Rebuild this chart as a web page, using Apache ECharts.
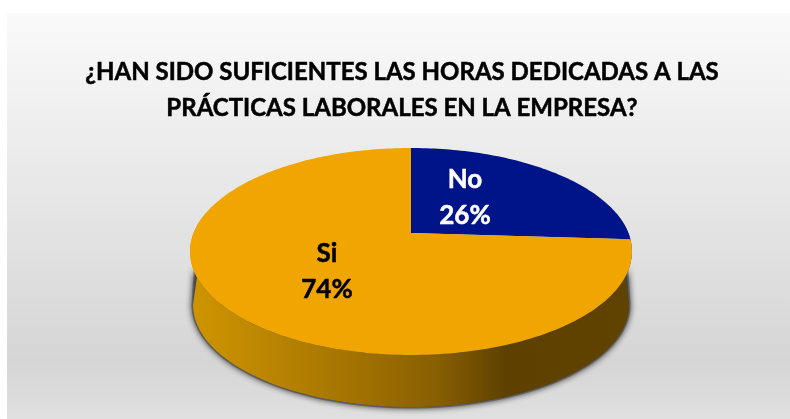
<!DOCTYPE html>
<html>
<head>
<meta charset="utf-8">
<style>html,body{margin:0;padding:0;background:#fff}#chart{width:790px;height:419px}</style>
<script src="https://cdn.jsdelivr.net/npm/echarts@6/dist/echarts.min.js"></script>
</head>
<body>
<div id="chart"></div>
<script>
const titleLines = ['¿HAN SIDO SUFICIENTES LAS HORAS DEDICADAS A LAS', 'PRÁCTICAS LABORALES EN LA EMPRESA?'];
const categories = ['No', 'Si'];
const shares = [26, 74];
const sliceColors = ['#00148A', '#F0A500'];
const labelColors = ['#ffffff', '#000000'];

// Tilted disc: the unit circle is mapped through a perspective projection,
// so the hub sits above the middle of the visible ellipse.
const hubX = 411, hubY = 233, scaleX = 217.4, scaleY = 58.55, tilt = -0.1787;
const project = (a) => {
  const x = Math.sin(a), y = -Math.cos(a), w = 1 + tilt * y;
  return [hubX + scaleX * x / w, (hubY + scaleY * y) / w];
};

// Lower rim of the cylinder, slightly narrower than the top face.
const rim = {cx: 411, cy: 305, rx: 218, ry: 102};

const total = shares.reduce((s, v) => s + v, 0);

function sectorPoints(startShare, share) {
  const pts = [[hubX, hubY]];
  const steps = Math.max(8, Math.round(share * 3));
  for (let i = 0; i <= steps; i++) {
    pts.push(project((startShare + share * i / steps) / total * 2 * Math.PI));
  }
  return pts;
}

// Outline of the wall; the top-face arc runs between the two given angles.
function wallPoints(fromDeg, toDeg) {
  const pts = [];
  for (let d = fromDeg; d <= toDeg; d += 2) pts.push(project(d * Math.PI / 180));
  for (let d = 270; d >= 90; d -= 2) {
    const t = d * Math.PI / 180;
    pts.push([rim.cx + rim.rx * Math.sin(t), rim.cy - rim.ry * Math.cos(t)]);
  }
  return pts;
}

const labelAnchors = [[465, 198], [327, 272]];

const option = {
  animation: false,
  graphic: {
    elements: [{
      type: 'rect', z: -10, silent: true,
      shape: {x: 7, y: 13, width: 783, height: 406},
      style: {
        fill: {
          type: 'linear', x: 0, y: 0, x2: 0, y2: 1,
          colorStops: [
            {offset: 0, color: '#fafafa'},
            {offset: 0.86, color: '#d5d5d5'},
            {offset: 1, color: '#e0e0e0'}
          ]
        }
      }
    }]
  },
  title: {
    text: titleLines.join('\n'),
    left: 397, top: 49, textAlign: 'center',
    textStyle: {
      fontFamily: 'Lato', fontWeight: 'bold', fontSize: 24, lineHeight: 36, color: '#000',
      textBorderColor: '#000', textBorderWidth: 0.5
    }
  },
  series: [
    {
      // Soft shadow hugging the lower part of the cylinder.
      type: 'custom', coordinateSystem: 'none', silent: true, z: 1,
      data: [0],
      renderItem: () => ({
        type: 'polygon',
        shape: {points: wallPoints(112, 248)},
        style: {
          fill: '#555', stroke: 'rgba(70,70,70,0.55)', lineWidth: 3,
          shadowColor: 'rgba(0,0,0,0.8)', shadowBlur: 6
        }
      })
    },
    {
      // Side wall of the cylinder, behind the top face.
      type: 'custom', coordinateSystem: 'none', silent: true, z: 2,
      data: [0],
      renderItem: () => ({
        type: 'polygon',
        shape: {points: wallPoints(78, 282)},
        style: {
          fill: {
            type: 'linear', x: 190, y: 0, x2: 631, y2: 0, global: true,
            colorStops: [
              {offset: 0, color: '#CF9500'},
              {offset: 0.3, color: '#AC7A02'},
              {offset: 0.55, color: '#8A6001'},
              {offset: 0.72, color: '#5E4100'},
              {offset: 1, color: '#604300'}
            ]
          }
        }
      })
    },
    {
      type: 'custom', coordinateSystem: 'none', silent: true, z: 3,
      data: shares.map((v, i) => [i, v]),
      renderItem: (params, api) => {
        const i = api.value(0);
        const share = api.value(1);
        const start = shares.slice(0, i).reduce((s, v) => s + v, 0);
        return {
          type: 'group',
          children: [
            {
              type: 'polygon', z2: 1,
              shape: {points: sectorPoints(start, share)},
              style: {fill: sliceColors[i]}
            },
            {
              type: 'text', z2: 2,
              x: labelAnchors[i][0], y: labelAnchors[i][1],
              style: {
                text: categories[i] + '\n' + share + '%',
                fill: labelColors[i],
                stroke: labelColors[i],
                lineWidth: 0.5,
                font: 'bold 26px Lato',
                lineHeight: 36,
                align: 'center', verticalAlign: 'middle'
              }
            }
          ]
        };
      }
    }
  ]
};

echarts.init(document.getElementById('chart'), null, {renderer: 'canvas'}).setOption(option);
</script>
</body>
</html>
